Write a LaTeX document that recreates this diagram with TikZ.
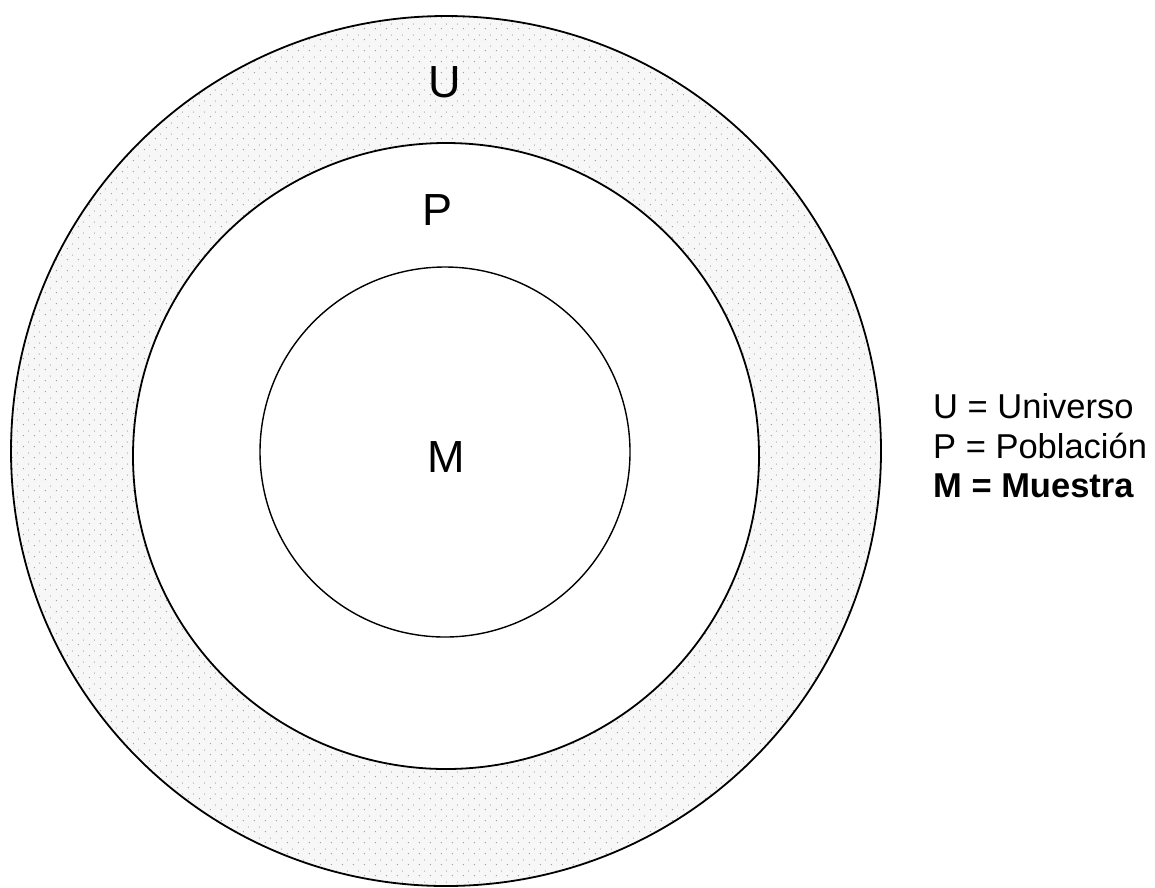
\documentclass[tikz,border=0pt]{standalone}
\usepackage{fontspec}
\setmainfont{Liberation Sans}
\usetikzlibrary{patterns.meta}
\tikzdeclarepattern{name=stipple, type=uncolored, bounding box={(0,0) and (11pt,11pt)}, tile size={(11pt,11pt)}, code={\fill (1.5pt,1.5pt) circle (0.8pt); \fill (7pt,6.5pt) circle (0.6pt);}}
\begin{document}
\begin{tikzpicture}[x=1pt,y=-1pt,
  ring/.style={draw=black, line width=1.8pt},
  lab/.style={font=\fontsize{45}{50}\selectfont, anchor=base, inner sep=0pt},
  leg/.style={font=\fontsize{34.5}{40}\selectfont, anchor=base west, inner sep=0pt}]
\useasboundingbox (0,0) rectangle (1155,887);
\fill[white] (0,0) rectangle (1155,887);
% shaded ring between universe and population
\fill[black!3, even odd rule] (446,451) circle (435) (446,456) circle (313);
\fill[pattern=stipple, pattern color=black!40, even odd rule] (446,451) circle (435) (446,456) circle (313);
\node[ring, circle, minimum size=870pt, inner sep=0pt] (cU) at (446,451) {};
\node[ring, circle, minimum size=626pt, inner sep=0pt] (cP) at (446,456) {};
\node[ring, circle, line width=1.4pt, minimum size=370pt, inner sep=0pt] (cM) at (445,452) {};
\node[lab] (U) at (445,97) {U};
\node[lab] (P) at (437,225) {P};
\node[lab] (M) at (446,472) {M};
\node[leg] (l1) at (933,418) {U = Universo};
\node[leg] (l2) at (933,458) {P = Población};
\node[leg, font=\fontsize{34.5}{40}\selectfont\bfseries] (l3) at (933,497) {M = Muestra};
\end{tikzpicture}
\end{document}
